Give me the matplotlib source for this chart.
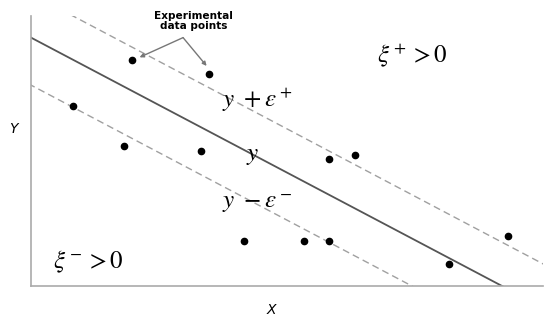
import matplotlib
matplotlib.use("Agg")
import matplotlib.pyplot as plt
import numpy as np

plt.rcParams['mathtext.fontset'] = 'stix'
plt.rcParams['font.family'] = ['DejaVu Sans']

# data points
px = [1.97, 3.48, 0.82, 1.82, 3.32, 5.82, 6.33, 4.16, 5.33, 5.82, 8.16, 9.32]
py = [8.37, 7.85, 6.67, 5.19, 5.00, 4.70, 4.85, 1.67, 1.67, 1.67, 0.81, 1.85]

# regression line and tube
intercept = 9.2
slope = -1.0
eps_plus = 1.62
eps_minus = 1.76

fig = plt.figure(figsize=(5.5, 3.24), dpi=100)
W, H = 550, 324
ax = fig.add_axes([31 / W, 1 - 286 / H, (543 - 31) / W, (286 - 16) / H])
ax.set_xlim(0, 10)
ax.set_ylim(0, 10)

xs = np.linspace(-1, 11, 200)
ax.plot(xs, intercept + slope * xs, color='#555555', lw=1.3, zorder=2)
ax.plot(xs, intercept + eps_plus + slope * xs, color='#a0a0a0', lw=1.0,
        ls=(0, (5, 3)), zorder=2)
ax.plot(xs, intercept - eps_minus + slope * xs, color='#a0a0a0', lw=1.0,
        ls=(0, (5, 3)), zorder=2)

ax.plot(px, py, 'o', color='black', ms=4.5, zorder=3)

for s in ['top', 'right']:
    ax.spines[s].set_visible(False)
for s in ['left', 'bottom']:
    ax.spines[s].set_color('#aaaaaa')
    ax.spines[s].set_linewidth(1.2)
ax.set_xticks([])
ax.set_yticks([])

# annotation
ax.text(3.18, 9.82, 'Experimental\ndata points', ha='center', va='center',
        fontsize=7.6, fontweight='bold', linespacing=1.0)
for i in (0, 1):
    ax.annotate('', xy=(px[i] + (0.15 if i == 0 else -0.05), py[i] + (0.1 if i == 0 else 0.3)),
                xytext=(2.97, 9.2),
                arrowprops=dict(arrowstyle='-|>', color='#777777', lw=1.0,
                                mutation_scale=6, shrinkA=0, shrinkB=0))

fs = 18
ax.text(4.41, 6.89, r'$y\ +\varepsilon^+$', ha='center', va='center', fontsize=fs)
ax.text(4.32, 4.85, r'$y$', ha='center', va='center', fontsize=fs)
ax.text(4.41, 3.07, r'$y\ -\varepsilon^-$', ha='center', va='center', fontsize=fs)
ax.text(7.44, 8.56, r'$\xi^+ > 0$', ha='center', va='center', fontsize=fs)
ax.text(1.13, 0.89, r'$\xi^- > 0$', ha='center', va='center', fontsize=fs)

fig.text(13 / W, 1 - 129 / H, 'Y', ha='center', va='center', fontsize=10, style='italic')
fig.text(271 / W, 1 - 310 / H, 'X', ha='center', va='center', fontsize=10, style='italic')

fig.savefig('out.png', dpi=100)
